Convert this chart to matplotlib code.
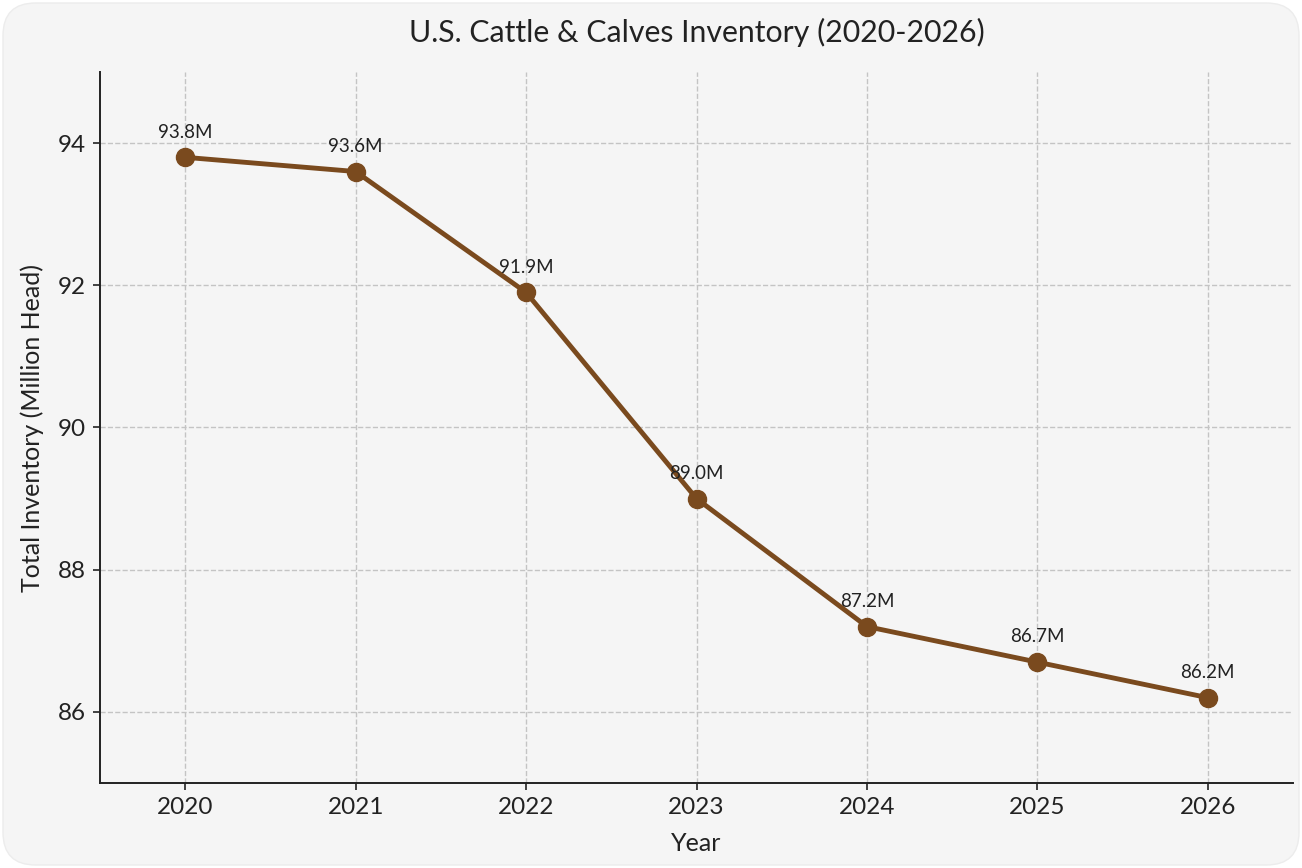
import matplotlib
matplotlib.use("Agg")
import matplotlib.pyplot as plt
from matplotlib.patches import FancyBboxPatch

years = [2020, 2021, 2022, 2023, 2024, 2025, 2026]
inventory = [93.8, 93.6, 91.9, 89.0, 87.2, 86.7, 86.2]
labels = [f"{v:.1f}M" for v in inventory]
yticks = [86, 88, 90, 92, 94]

plt.rcParams['font.family'] = ['Lato', 'DejaVu Sans']

W, H = 1302, 868
fig = plt.figure(figsize=(W / 100, H / 100), dpi=100, facecolor='white')
bg = FancyBboxPatch((3 / W, 3 / H), (W - 6) / W, (H - 6) / H,
                    boxstyle="round,pad=0,rounding_size=0.025",
                    transform=fig.transFigure, facecolor='#f5f5f5',
                    edgecolor='#ececec', linewidth=1, zorder=-10,
                    mutation_aspect=W / H)
fig.patches.append(bg)

ax = fig.add_axes([100 / W, (H - 783) / H, (1293 - 100) / W, (783 - 72) / H])
ax.set_facecolor('#f5f5f5')

color = '#7a4a1e'
ax.plot(years, inventory, color=color, linewidth=3.5, marker='o',
        markersize=13, zorder=3)
for x, y, t in zip(years, inventory, labels):
    ax.annotate(t, (x, y), xytext=(0, 12), textcoords='offset points',
                ha='center', va='bottom', fontsize=13.5, color='#222222')

ax.set_xlim(2019.5, 2026.5)
ax.set_ylim(85, 95)
ax.set_xticks(years)
ax.set_yticks(yticks)
ax.tick_params(labelsize=17.5, length=5, width=1.2, colors='#222222', pad=5)
ax.grid(True, linestyle='--', color='#c4c4c4', linewidth=1)
ax.set_axisbelow(True)
for s in ['top', 'right']:
    ax.spines[s].set_visible(False)
for s in ['left', 'bottom']:
    ax.spines[s].set_linewidth(1.4)
    ax.spines[s].set_color('#222222')

ax.set_xlabel('Year', fontsize=18, color='#222222', labelpad=10)
ax.set_ylabel('Total Inventory (Million Head)', fontsize=18, color='#222222', labelpad=10)
fig.text((100 + 1293) / 2 / W, (H - 32) / H, 'U.S. Cattle & Calves Inventory (2020-2026)',
         ha='center', va='center', fontsize=21.8, color='#222222')

fig.savefig('out.png', dpi=100, facecolor='white')
